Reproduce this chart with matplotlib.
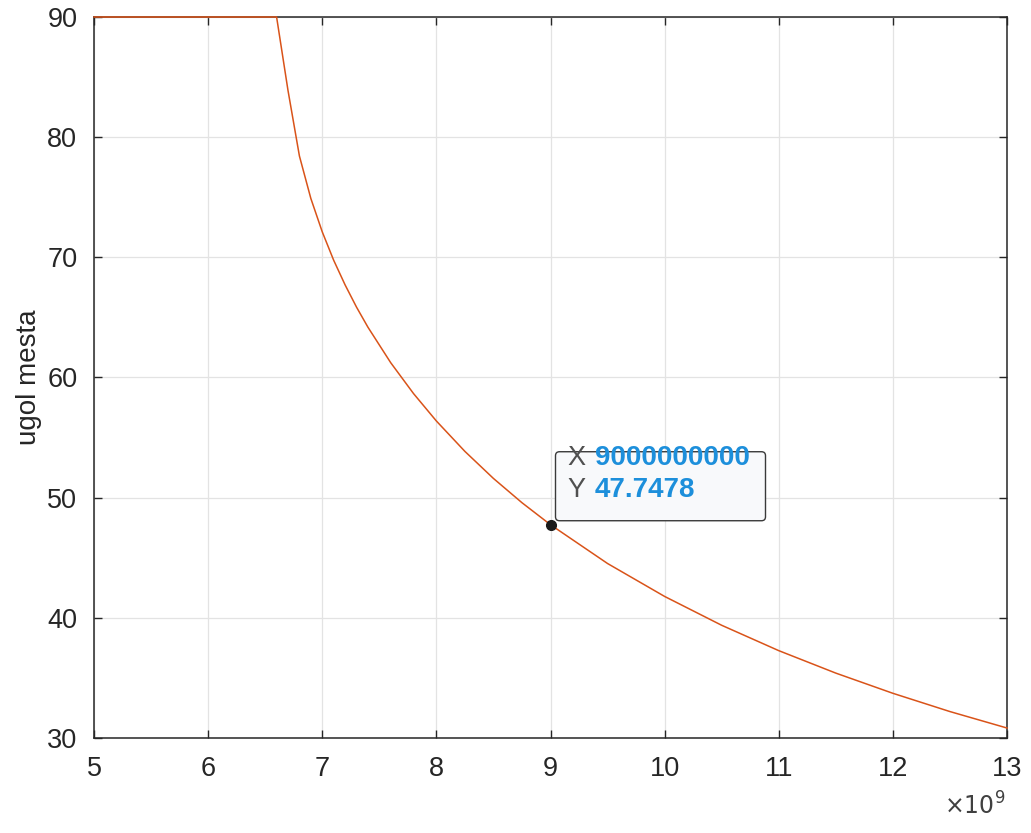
import matplotlib
matplotlib.use("Agg")
import matplotlib.pyplot as plt
from matplotlib.patches import FancyBboxPatch
from matplotlib.transforms import Affine2D
from matplotlib.ticker import FuncFormatter

plt.rcParams['font.family'] = ['Liberation Sans', 'DejaVu Sans']

# frequency, Hz
freq = [5.0e9, 6.6e9, 6.7e9, 6.8e9, 6.9e9, 7.0e9, 7.1e9, 7.2e9, 7.3e9, 7.4e9,
        7.6e9, 7.8e9, 8.0e9, 8.25e9, 8.5e9, 8.75e9, 9.0e9, 9.5e9, 10.0e9,
        10.5e9, 11.0e9, 11.5e9, 12.0e9, 12.5e9, 13.0e9]
# elevation angle, degrees
ugol = [90.0, 90.0, 83.88, 78.43, 74.90, 72.12, 69.76, 67.71, 65.86, 64.19,
        61.23, 58.66, 56.38, 53.85, 51.60, 49.58, 47.7478, 44.52, 41.78,
        39.38, 37.27, 35.40, 33.72, 32.20, 30.83]

tip_x = 9000000000
tip_y = 47.7478

x_ticks = [5e9, 6e9, 7e9, 8e9, 9e9, 10e9, 11e9, 12e9, 13e9]
y_ticks = [30, 40, 50, 60, 70, 80, 90]

axis_col = '#262626'
W, H = 1031, 833
fig = plt.figure(figsize=(W / 100, H / 100), dpi=100)
fig.patch.set_facecolor('white')
ax = fig.add_axes([94 / W, 1 - 738 / H, (1007 - 94) / W, (738 - 17) / H])

ax.plot(freq, ugol, color='#D95319', lw=1.1, zorder=3, clip_on=False)

ax.set_xlim(5e9, 13e9)
ax.set_ylim(30, 90)
ax.set_xticks(x_ticks)
ax.set_yticks(y_ticks)
ax.xaxis.set_major_formatter(FuncFormatter(lambda v, p: f"{v / 1e9:g}"))
ax.grid(True, color='#e3e3e3', lw=0.9, zorder=0)
ax.set_axisbelow(True)
ax.tick_params(direction='in', length=6, width=1.0, colors=axis_col,
               labelsize=19.5, top=True, right=True)
ax.tick_params(axis='x', pad=13)
ax.tick_params(axis='y', pad=12)
for s in ax.spines.values():
    s.set_color(axis_col)
    s.set_linewidth(1.1)
    s.set_zorder(2)
ax.set_ylabel('ugol mesta', fontsize=20, color=axis_col, labelpad=4)

fig.text(1005 / W, 1 - 806 / H, r'$\times10^{9}$', ha='right', va='center',
         fontsize=17, color='#404040', math_fontfamily='dejavusans')

# data tip
ax.plot([tip_x], [tip_y], 'o', color='#1a1a1a', ms=7, zorder=5)
fig.canvas.draw()
px, py = ax.transData.transform((tip_x, tip_y))
box = FancyBboxPatch((5, 4), 210, 69, boxstyle='round,pad=0,rounding_size=4',
                     facecolor='#f8f9fb', edgecolor='#3a3a3a', lw=1.0, zorder=6)
box.set_transform(Affine2D().translate(px, py))
fig.add_artist(box)
rows = [('X', f"{tip_x}", 67), ('Y', f"{tip_y}", 35)]
for lab, val, dy in rows:
    fig.text(0, 0, lab, transform=Affine2D().translate(px + 17, py + dy),
             ha='left', va='center', fontsize=19.5, color='#505050', zorder=7)
    fig.text(0, 0, val, transform=Affine2D().translate(px + 44, py + dy),
             ha='left', va='center', fontsize=20, color='#1d8fdb',
             fontweight='bold', zorder=7)

fig.savefig('out.png', dpi=100, facecolor='white')
